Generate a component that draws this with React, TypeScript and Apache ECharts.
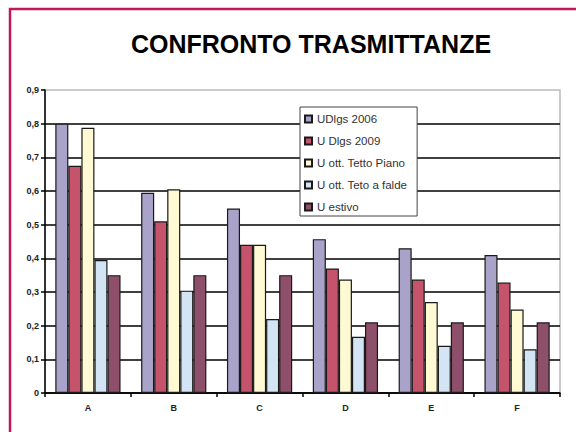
import React, { useEffect, useRef } from "react";
import * as echarts from "echarts";

const categories = ["A", "B", "C", "D", "E", "F"];
const seriesNames = ["UDlgs 2006", "U Dlgs 2009", "U ott. Tetto Piano", "U ott. Teto a falde", "U estivo"];
const dlgs2006 = [0.8, 0.595, 0.548, 0.457, 0.43, 0.41];
const dlgs2009 = [0.675, 0.51, 0.44, 0.37, 0.337, 0.328];
const tettoPiano = [0.788, 0.605, 0.44, 0.337, 0.27, 0.248];
const tetoFalde = [0.395, 0.304, 0.22, 0.167, 0.14, 0.13];
const estivo = [0.35, 0.35, 0.35, 0.21, 0.21, 0.21];
const seriesValues = [dlgs2006, dlgs2009, tettoPiano, tetoFalde, estivo];
const colors = ["#A9A3C9", "#C4536B", "#FFFAD4", "#D3E5F5", "#8D4F69"];

export default function App() {
  const ref = useRef<HTMLDivElement>(null);
  useEffect(() => {
    if (!ref.current) return;
    const chart = echarts.init(ref.current, null, { renderer: "svg" });
    const font = "Liberation Sans, Arial, sans-serif";
    chart.setOption({
      animation: false,
      backgroundColor: "#ffffff",
      textStyle: { fontFamily: font },
      title: {
        text: "CONFRONTO TRASMITTANZE",
        left: 306,
        top: 26,
        textAlign: "center",
        textStyle: { fontSize: 25, fontWeight: "bold", color: "#000", fontFamily: font },
      },
      graphic: [
        {
          type: "rect",
          shape: { x: 10, y: 9, width: 700, height: 600 },
          style: { fill: "none", stroke: "#C2185B", lineWidth: 2.5 },
          z: 100,
        },
      ],
      legend: {
        orient: "vertical",
        left: 300,
        top: 107,
        padding: [6, 10, 3, 4],
        itemGap: 10,
        itemWidth: 7,
        itemHeight: 7,
        backgroundColor: "#ffffff",
        borderColor: "#444",
        borderWidth: 1,
        icon: "rect",
        data: seriesNames,
        textStyle: { fontSize: 11.5, color: "#333", fontFamily: font, lineHeight: 12 },
        z: 10,
      },
      grid: {
        left: 45,
        right: 16,
        top: 90,
        bottom: 39,
        show: true,
        borderColor: "#bbb",
        borderWidth: 1.5,
        backgroundColor: "transparent",
      },
      xAxis: {
        type: "category",
        data: categories,
        axisLine: { lineStyle: { color: "#000", width: 1.5 } },
        axisTick: { show: true, length: 4, lineStyle: { color: "#000", width: 1.5 } },
        axisLabel: { fontSize: 9, fontWeight: "bold", color: "#222", margin: 10 },
      },
      yAxis: {
        type: "value",
        min: 0,
        max: 0.9,
        interval: 0.1,
        axisLine: { show: true, lineStyle: { color: "#000", width: 1.5 } },
        axisTick: { show: true, length: 4, lineStyle: { color: "#000", width: 1.5 } },
        axisLabel: {
          fontSize: 9,
          fontWeight: "bold",
          color: "#222",
          margin: 6,
          formatter: (v: number) => (Math.round(v * 10) / 10).toString().replace(".", ","),
        },
        splitLine: { show: true, showMaxLine: false, lineStyle: { color: "#000", width: 1.6 } },
      },
      series: seriesNames.map((name, i) => ({
        name,
        type: "bar",
        data: seriesValues[i],
        barGap: "0%",
        barCategoryGap: "24%",
        itemStyle: { color: colors[i], borderColor: "#1a1a1a", borderWidth: 1.2 },
      })),
    });
    return () => chart.dispose();
  }, []);
  return (
    <div
      ref={ref}
      style={{ position: "fixed", left: 0, top: 0, width: 576, height: 432 }}
    />
  );
}
